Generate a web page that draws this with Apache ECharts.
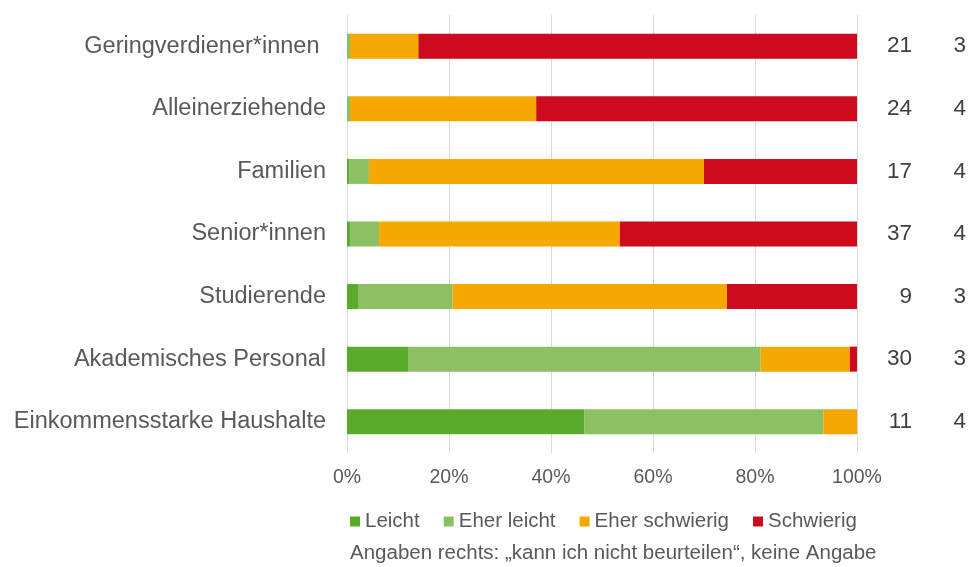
<!DOCTYPE html>
<html>
<head>
<meta charset="utf-8">
<script src="https://cdn.jsdelivr.net/npm/echarts@6/dist/echarts.min.js"></script>
<style>
html,body{margin:0;padding:0;background:#fff;}
#chart{width:971px;height:567px;}
</style>
</head>
<body>
<div id="chart"></div>
<script>
const categories = ["Geringverdiener*innen ", "Alleinerziehende", "Familien", "Senior*innen", "Studierende", "Akademisches Personal", "Einkommensstarke Haushalte"];
const seriesNames = ["Leicht", "Eher leicht", "Eher schwierig", "Schwierig"];
const leicht = [0, 0, 0.5, 0.6, 2.3, 12.1, 46.5];
const eherLeicht = [0.6, 0.6, 3.8, 5.7, 18.4, 69.0, 46.9];
const eherSchwierig = [13.4, 36.5, 65.7, 47.2, 53.8, 17.5, 6.6];
const schwierig = [86.0, 62.9, 30.0, 46.5, 25.5, 1.4, 0];
const kannNichtBeurteilen = [21, 24, 17, 37, 9, 30, 11];
const keineAngabe = [3, 4, 4, 4, 3, 3, 4];
const xTicks = [0, 20, 40, 60, 80, 100];
const footnote = "Angaben rechts: \u201Ekann ich nicht beurteilen\u201C, keine Angabe";

const colors = ["#5AAB2B", "#8DC063", "#F5A800", "#CD0A1E"];
const font = "'Liberation Sans', Arial, sans-serif";
const textColor = "#595959";

const chart = echarts.init(document.getElementById('chart'), null, {renderer: 'canvas'});
const values = [leicht, eherLeicht, eherSchwierig, schwierig];

const option = {
  animation: false,
  textStyle: {fontFamily: font},
  color: colors,
  grid: {left: 347, right: 114, top: 15, bottom: 114, containLabel: false},
  legend: {
    data: seriesNames,
    left: 345, top: 506,
    icon: 'rect', itemWidth: 10, itemHeight: 10, itemGap: 24,
    textStyle: {fontSize: 20.5, color: textColor, fontFamily: font}
  },
  title: {
    text: footnote,
    left: 345, top: 538,
    textStyle: {fontSize: 20.5, fontWeight: 'normal', color: textColor, fontFamily: font}
  },
  xAxis: {
    type: 'value', min: xTicks[0], max: xTicks[xTicks.length - 1], interval: 20,
    axisLine: {show: false}, axisTick: {show: false},
    splitLine: {show: true, lineStyle: {color: '#D9D9D9', width: 1}},
    axisLabel: {formatter: '{value}%', fontSize: 19.5, color: textColor, margin: 15, fontFamily: font}
  },
  yAxis: [
    {
      type: 'category', data: categories, inverse: true,
      axisLine: {show: false}, axisTick: {show: false},
      axisLabel: {fontSize: 23.5, color: textColor, margin: 21, fontFamily: font}
    },
    {
      type: 'category', data: categories, inverse: true, position: 'right',
      axisLine: {show: false}, axisTick: {show: false},
      axisLabel: {
        margin: 14,
        formatter: function (v, i) { return '{a|' + kannNichtBeurteilen[i] + '}{b|' + keineAngabe[i] + '}'; },
        rich: {
          a: {width: 41, align: 'right', fontSize: 22.5, color: '#404040', fontFamily: font},
          b: {width: 54, align: 'right', fontSize: 22.5, color: '#404040', fontFamily: font}
        }
      }
    }
  ],
  series: seriesNames.map((name, k) => ({
    name: name, type: 'bar', stack: 'total', barWidth: 25,
    yAxisIndex: 0,
    data: values[k],
    itemStyle: {color: colors[k]}
  }))
};
chart.setOption(option);
</script>
</body>
</html>
